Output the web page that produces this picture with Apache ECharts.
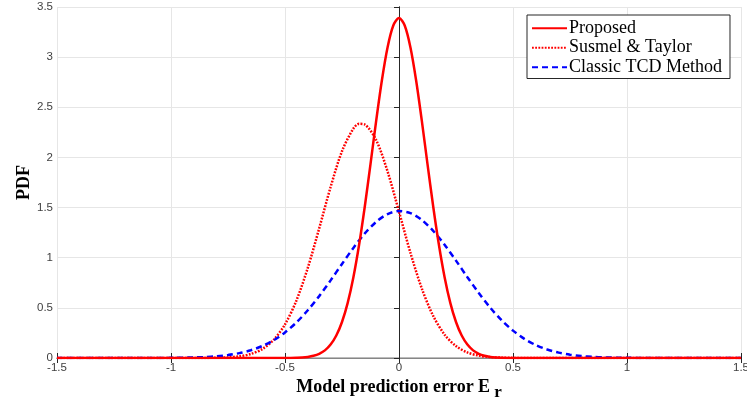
<!DOCTYPE html>
<html>
<head>
<meta charset="utf-8">
<script src="https://cdn.jsdelivr.net/npm/echarts@6/dist/echarts.min.js"></script>
<style>html,body{margin:0;padding:0;background:#fff}#c{width:747px;height:401px}</style>
</head>
<body>
<div id="c"></div>
<script>
// ---- data ----
var seriesNames = ['Proposed', 'Susmel & Taylor', 'Classic TCD Method'];
var xTicks = [-1.5, -1, -0.5, 0, 0.5, 1, 1.5];
var yTicks = [0, 0.5, 1, 1.5, 2, 2.5, 3, 3.5];

var proposedX = [-1.5, -0.6, -0.55,
  -0.5, -0.475, -0.45, -0.425, -0.4, -0.375, -0.35, -0.325, -0.3, -0.275, -0.25, -0.225, -0.2, -0.175, -0.15, -0.125, -0.1, -0.075, -0.05, -0.025,
  0,
  0.025, 0.05, 0.075, 0.1, 0.125, 0.15, 0.175, 0.2, 0.225, 0.25, 0.275, 0.3, 0.325, 0.35, 0.375, 0.4, 0.425, 0.45, 0.475, 0.5,
  0.55, 0.6, 1.5];
var proposedY = [0, 0, 0,
  0.0004, 0.001, 0.0024, 0.005, 0.011, 0.022, 0.042, 0.076, 0.134, 0.224, 0.359, 0.550, 0.806, 1.129, 1.511, 1.934, 2.367, 2.770, 3.099, 3.315,
  3.39,
  3.315, 3.099, 2.770, 2.367, 1.934, 1.511, 1.129, 0.806, 0.550, 0.359, 0.224, 0.134, 0.076, 0.042, 0.022, 0.011, 0.005, 0.0024, 0.001, 0.0004,
  0, 0, 0];

var susmelX = [-1.5, -1.0, -0.95, -0.9, -0.85, -0.8, -0.75, -0.7, -0.65, -0.6, -0.55, -0.5, -0.45, -0.4, -0.35, -0.3, -0.25, -0.2, -0.175, -0.15,
  -0.1, -0.05, 0, 0.05, 0.1, 0.15, 0.2, 0.25, 0.3, 0.35, 0.4, 0.45, 0.5, 0.55, 0.6, 1.5];
var susmelY = [0, 0, 0.0001, 0.0002, 0.0007, 0.0022, 0.0063, 0.0165, 0.040, 0.0885, 0.180, 0.335, 0.573, 0.899, 1.293, 1.705, 2.062, 2.288, 2.335, 2.328,
  2.172, 1.859, 1.459, 1.050, 0.693, 0.420, 0.233, 0.119, 0.0554, 0.0238, 0.0093, 0.0034, 0.0011, 0.0003, 0.0001, 0];

var classicX = [-1.5, -1.4, -1.3, -1.2, -1.1,
  -1.0, -0.95, -0.9, -0.85, -0.8, -0.75, -0.7, -0.65, -0.6, -0.55, -0.5, -0.45, -0.4, -0.35, -0.3, -0.25, -0.2, -0.15, -0.1, -0.05,
  0, 0.05, 0.1, 0.15, 0.2, 0.25, 0.3, 0.35, 0.4, 0.45, 0.5, 0.55, 0.6, 0.65, 0.7, 0.75, 0.8, 0.85, 0.9, 0.95, 1.0,
  1.1, 1.2, 1.3, 1.4, 1.5];
var classicY = [0, 0, 0, 0.0001, 0.0003,
  0.0014, 0.0028, 0.0053, 0.0097, 0.0172, 0.0294, 0.0485, 0.0773, 0.119, 0.177, 0.255, 0.354, 0.476, 0.617, 0.774, 0.938, 1.098, 1.242, 1.358, 1.435,
  1.465, 1.445, 1.377, 1.268, 1.129, 0.971, 0.806, 0.648, 0.502, 0.377, 0.273, 0.191, 0.129, 0.0844, 0.0533, 0.0326, 0.0192, 0.0109, 0.0060, 0.0032, 0.0016,
  0.0004, 0.0001, 0, 0, 0];

function pairs(xs, ys) { return xs.map(function (x, i) { return [x, ys[i]]; }); }

var tickFont = { fontFamily: 'Liberation Sans', fontSize: 11.5, color: '#404040' };
var serif = 'Liberation Serif';

var chart = echarts.init(document.getElementById('c'), null, { renderer: 'canvas' });
chart.setOption({
  animation: false,
  backgroundColor: '#ffffff',
  grid: { left: 57, right: 6, top: 7, bottom: 43, containLabel: false, outerBoundsMode: 'none' },
  legend: {
    orient: 'vertical',
    left: 527, top: 15,
    padding: [4, 8, 2, 4],
    itemWidth: 35, itemHeight: 10, itemGap: 1,
    backgroundColor: '#ffffff',
    borderColor: '#262626', borderWidth: 1,
    itemStyle: { opacity: 0 },
    textStyle: { fontFamily: serif, fontSize: 18, color: '#000', lineHeight: 18.5, padding: [0, 0, 0, -3] },
    data: seriesNames
  },
  xAxis: [{
    type: 'value', min: xTicks[0], max: xTicks[xTicks.length - 1], interval: 0.5,
    position: 'bottom',
    axisLine: { lineStyle: { color: '#262626', width: 1 } },
    axisTick: { inside: true, length: 5, lineStyle: { color: '#262626' } },
    axisLabel: Object.assign({ margin: 4 }, tickFont),
    splitLine: { show: true, lineStyle: { color: '#e6e6e6', width: 1 } },
    name: '{a|Model prediction error E}{s|r}',
    nameLocation: 'middle', nameGap: 18, nameMoveOverlap: false,
    nameTextStyle: {
      rich: {
        a: { fontFamily: serif, fontWeight: 'bold', fontSize: 18, color: '#000', lineHeight: 22 },
        s: { fontFamily: serif, fontWeight: 'bold', fontSize: 17, color: '#000', lineHeight: 22, padding: [11, 0, 0, 4] }
      }
    }
  }, {
    type: 'value', min: xTicks[0], max: xTicks[xTicks.length - 1], interval: 0.5,
    position: 'top',
    axisLine: { lineStyle: { color: '#a6a6a6', width: 1.5 } },
    axisTick: { inside: true, length: 5, lineStyle: { color: '#262626' } },
    axisLabel: { show: false },
    splitLine: { show: false }
  }],
  yAxis: [{
    type: 'value', min: yTicks[0], max: yTicks[yTicks.length - 1], interval: 0.5,
    axisLine: { show: true, lineStyle: { color: '#262626', width: 1 } },
    axisTick: { show: true, inside: false, length: 3, lineStyle: { color: '#262626' } },
    axisLabel: Object.assign({ margin: 4 }, tickFont),
    splitLine: { show: true, lineStyle: { color: '#e6e6e6', width: 1 } },
    name: 'PDF', nameLocation: 'middle', nameGap: 24, nameMoveOverlap: false,
    nameTextStyle: { fontFamily: serif, fontWeight: 'bold', fontSize: 18, color: '#000' }
  }, {
    type: 'value', min: yTicks[0], max: yTicks[yTicks.length - 1], interval: 0.5,
    position: 'right',
    axisLine: { show: true, lineStyle: { color: '#262626', width: 1 } },
    axisTick: { show: true, inside: true, length: 5, lineStyle: { color: '#262626' } },
    axisLabel: { show: false },
    splitLine: { show: false }
  }],
  series: [{
    name: seriesNames[0], type: 'line', xAxisIndex: 0, yAxisIndex: 0,
    data: pairs(proposedX, proposedY), symbol: 'none', smooth: 0.3, z: 4,
    lineStyle: { color: '#ff0000', width: 2.5, type: 'solid' },
    itemStyle: { color: '#ff0000' }
  }, {
    name: seriesNames[1], type: 'line', xAxisIndex: 0, yAxisIndex: 0,
    data: pairs(susmelX, susmelY), symbol: 'none', smooth: 0.3, z: 3,
    lineStyle: { color: '#ff0000', width: 2.5, type: [1.8, 1.4] },
    itemStyle: { color: '#ff0000' }
  }, {
    name: seriesNames[2], type: 'line', xAxisIndex: 0, yAxisIndex: 0,
    data: pairs(classicX, classicY), symbol: 'none', smooth: 0.3, z: 3,
    lineStyle: { color: '#0000ff', width: 2.5, type: [6, 4] },
    itemStyle: { color: '#0000ff' }
  }]
});
</script>
</body>
</html>
